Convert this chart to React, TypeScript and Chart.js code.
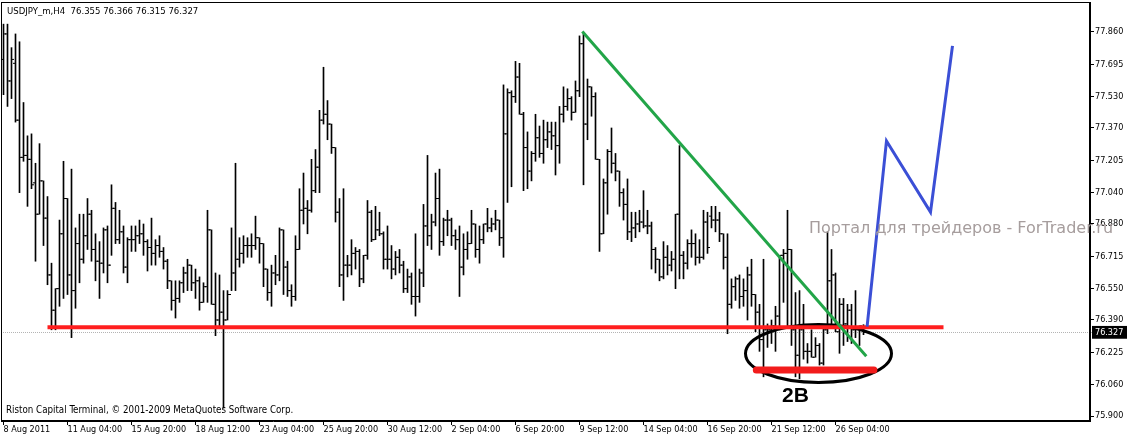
import React, { useEffect, useRef } from "react";
import { Chart, registerables } from "chart.js";

Chart.register(...registerables);

// ---- OHLC data (USDJPY_m, H4), bar index 0 = first visible bar ----
const opens = [
  77.72, 77.85, 77.61, 77.70, 77.41, 77.22, 77.23, 77.21, 77.09, 76.93,
  77.10, 76.91, 76.62, 76.44, 76.55, 76.83, 77.01, 76.62, 76.54, 76.78,
  76.70, 76.82, 76.93, 76.75, 76.69, 76.68, 76.85, 76.67, 76.96, 76.80,
  76.84, 76.66, 76.80, 76.80, 76.82, 76.83, 76.79, 76.76, 76.73, 76.77,
  76.74, 76.69, 76.59, 76.49, 76.50, 76.58, 76.63, 76.67, 76.58, 76.59,
  76.48, 76.56, 76.85, 76.47, 76.39, 76.43, 76.39, 76.52, 76.63, 76.70,
  76.73, 76.77, 76.77, 76.77, 76.81, 76.78, 76.65, 76.53, 76.63, 76.62,
  76.85, 76.66, 76.54, 76.51, 76.75, 76.95, 76.96, 76.95, 77.05, 77.17,
  77.41, 77.44, 77.39, 77.27, 76.94, 76.62, 76.67, 76.67, 76.73, 76.74,
  76.60, 76.72, 76.94, 76.80, 76.85, 76.83, 76.70, 76.70, 76.65, 76.71,
  76.67, 76.55, 76.61, 76.51, 76.51, 76.63, 76.87, 76.82, 76.89, 77.01,
  76.79, 76.90, 76.90, 76.82, 76.80, 76.66, 76.75, 76.78, 76.88, 76.75,
  76.80, 76.88, 76.86, 76.88, 76.90, 76.81, 77.34, 77.55, 77.53, 77.63,
  77.44, 77.27, 77.15, 77.24, 77.32, 77.24, 77.31, 77.35, 77.33, 77.28,
  77.44, 77.48, 77.52, 77.45, 77.56, 77.80, 77.39, 77.58, 77.53, 77.21,
  76.83, 77.09, 77.25, 77.19, 77.15, 77.04, 76.98, 76.84, 76.86, 76.88,
  76.89, 76.87, 76.87, 76.75, 76.70, 76.61, 76.71, 76.67, 76.70, 76.93,
  76.72, 76.68, 76.78, 76.78, 76.71, 76.71, 76.89, 76.92, 76.90, 76.90,
  76.83, 76.71, 76.47, 76.56, 76.60, 76.51, 76.54, 76.62, 76.52, 76.43,
  76.29, 76.34, 76.34, 76.36, 76.41, 76.72, 76.73, 76.75, 76.34, 76.21,
  76.34, 76.23, 76.23, 76.20, 76.26, 76.17, 76.34, 76.59, 76.62, 76.33,
  76.47, 76.37, 76.44, 76.34, 76.35, 76.355,
];
const highs = [
  77.90, 77.90, 77.78, 77.85, 77.81, 77.50, 77.33, 77.34, 77.19, 77.29,
  77.10, 77.02, 76.68, 76.55, 76.90, 77.20, 77.01, 77.16, 76.86, 76.93,
  76.93, 77.01, 76.95, 76.83, 76.79, 76.86, 76.87, 77.08, 76.99, 76.95,
  76.87, 76.81, 76.87, 76.87, 76.90, 76.88, 76.80, 76.91, 76.80, 76.82,
  76.76, 76.70, 76.59, 76.59, 76.59, 76.66, 76.70, 76.67, 76.65, 76.61,
  76.58, 76.95, 76.85, 76.63, 76.62, 76.54, 76.54, 76.86, 77.19, 76.81,
  76.82, 76.81, 76.83, 76.92, 76.81, 76.78, 76.65, 76.67, 76.72, 76.86,
  76.85, 76.69, 76.57, 76.82, 77.06, 77.14, 77.00, 77.21, 77.26, 77.46,
  77.68, 77.51, 77.39, 77.27, 77.01, 77.06, 76.72, 76.80, 76.76, 76.75,
  76.72, 77.00, 76.95, 76.97, 76.94, 76.84, 76.87, 76.77, 76.74, 76.75,
  76.69, 76.65, 76.63, 76.83, 76.65, 76.98, 77.23, 76.93, 77.14, 77.16,
  76.91, 76.95, 76.91, 76.85, 76.87, 76.83, 76.84, 76.95, 76.88, 76.87,
  76.88, 76.96, 76.91, 76.95, 76.90, 77.59, 77.57, 77.56, 77.71, 77.70,
  77.45, 77.35, 77.25, 77.44, 77.38, 77.41, 77.40, 77.40, 77.40, 77.48,
  77.58, 77.57, 77.53, 77.61, 77.84, 77.85, 77.62, 77.58, 77.55, 77.21,
  77.11, 77.26, 77.37, 77.24, 77.15, 77.06, 77.11, 76.94, 76.94, 76.95,
  77.05, 76.95, 76.89, 76.76, 76.70, 76.79, 76.77, 76.74, 76.93, 77.28,
  76.74, 76.80, 76.85, 76.83, 76.80, 76.95, 76.94, 76.97, 76.97, 76.94,
  76.83, 76.83, 76.60, 76.61, 76.62, 76.60, 76.66, 76.70, 76.52, 76.47,
  76.70, 76.37, 76.39, 76.46, 76.72, 76.75, 76.95, 76.75, 76.53, 76.54,
  76.47, 76.27, 76.34, 76.30, 76.27, 76.36, 76.84, 76.75, 76.63, 76.50,
  76.50, 76.47, 76.47, 76.54, 76.36, 76.366,
];
const lows = [
  77.54, 77.48, 77.52, 77.40, 77.04, 77.20, 76.97, 77.06, 76.69, 76.93,
  76.77, 76.57, 76.34, 76.34, 76.46, 76.50, 76.52, 76.30, 76.45, 76.58,
  76.68, 76.75, 76.69, 76.59, 76.50, 76.63, 76.58, 76.72, 76.78, 76.78,
  76.63, 76.58, 76.74, 76.74, 76.78, 76.72, 76.64, 76.67, 76.67, 76.71,
  76.65, 76.55, 76.44, 76.40, 76.48, 76.53, 76.54, 76.54, 76.50, 76.44,
  76.48, 76.48, 76.47, 76.31, 76.36, 75.94, 76.39, 76.54, 76.54, 76.66,
  76.68, 76.71, 76.71, 76.75, 76.68, 76.56, 76.49, 76.46, 76.57, 76.59,
  76.52, 76.51, 76.46, 76.49, 76.75, 76.88, 76.83, 76.94, 77.04, 77.04,
  77.39, 77.31, 77.24, 76.89, 76.56, 76.49, 76.61, 76.62, 76.65, 76.56,
  76.58, 76.70, 76.79, 76.80, 76.82, 76.65, 76.65, 76.60, 76.62, 76.63,
  76.53, 76.53, 76.47, 76.41, 76.48, 76.56, 76.77, 76.75, 76.87, 76.72,
  76.77, 76.82, 76.77, 76.75, 76.51, 76.62, 76.70, 76.78, 76.71, 76.68,
  76.78, 76.84, 76.84, 76.85, 76.77, 76.71, 76.99, 77.07, 77.50, 77.44,
  77.05, 77.06, 77.10, 77.20, 77.22, 77.19, 77.27, 77.26, 77.13, 77.19,
  77.40, 77.46, 77.41, 77.45, 77.53, 77.08, 77.31, 77.43, 77.21, 76.74,
  76.83, 76.93, 77.14, 77.10, 76.97, 76.90, 76.80, 76.79, 76.81, 76.84,
  76.86, 76.83, 76.65, 76.63, 76.59, 76.60, 76.62, 76.64, 76.55, 76.60,
  76.60, 76.65, 76.71, 76.67, 76.68, 76.70, 76.73, 76.86, 76.84, 76.79,
  76.65, 76.32, 76.45, 76.49, 76.45, 76.46, 76.39, 76.46, 76.33, 76.23,
  76.10, 76.25, 76.27, 76.23, 76.34, 76.48, 76.36, 76.26, 76.10, 76.09,
  76.19, 76.17, 76.20, 76.20, 76.16, 76.16, 76.32, 76.36, 76.33, 76.22,
  76.26, 76.28, 76.27, 76.30, 76.26, 76.315,
];
const closes = [
  77.85, 77.61, 77.72, 77.41, 77.22, 77.23, 77.21, 77.08, 76.93, 77.10,
  76.91, 76.62, 76.44, 76.55, 76.83, 77.01, 76.62, 76.54, 76.78, 76.70,
  76.82, 76.93, 76.75, 76.69, 76.68, 76.85, 76.67, 76.96, 76.80, 76.84,
  76.66, 76.80, 76.80, 76.82, 76.83, 76.79, 76.76, 76.73, 76.77, 76.74,
  76.69, 76.59, 76.49, 76.50, 76.58, 76.63, 76.67, 76.58, 76.59, 76.48,
  76.56, 76.85, 76.47, 76.39, 76.43, 76.39, 76.52, 76.63, 76.70, 76.73,
  76.77, 76.77, 76.77, 76.81, 76.78, 76.65, 76.53, 76.63, 76.62, 76.85,
  76.66, 76.54, 76.51, 76.75, 76.95, 76.96, 76.95, 77.05, 77.17, 77.41,
  77.44, 77.39, 77.27, 76.94, 76.62, 76.67, 76.67, 76.73, 76.74, 76.60,
  76.72, 76.94, 76.80, 76.85, 76.83, 76.70, 76.70, 76.65, 76.71, 76.67,
  76.55, 76.61, 76.51, 76.51, 76.63, 76.87, 76.82, 76.89, 77.01, 76.79,
  76.90, 76.90, 76.82, 76.80, 76.66, 76.75, 76.78, 76.88, 76.75, 76.80,
  76.88, 76.86, 76.88, 76.90, 76.81, 77.34, 77.55, 77.53, 77.63, 77.44,
  77.27, 77.15, 77.24, 77.32, 77.24, 77.31, 77.35, 77.33, 77.28, 77.44,
  77.48, 77.52, 77.45, 77.56, 77.80, 77.39, 77.58, 77.53, 77.21, 76.83,
  77.09, 77.25, 77.19, 77.15, 77.04, 76.98, 76.84, 76.86, 76.88, 76.89,
  76.87, 76.87, 76.75, 76.70, 76.61, 76.71, 76.67, 76.70, 76.93, 76.72,
  76.68, 76.78, 76.78, 76.71, 76.71, 76.89, 76.76, 76.90, 76.90, 76.83,
  76.71, 76.47, 76.56, 76.60, 76.51, 76.54, 76.62, 76.52, 76.43, 76.29,
  76.34, 76.34, 76.36, 76.41, 76.72, 76.73, 76.75, 76.34, 76.21, 76.34,
  76.23, 76.23, 76.20, 76.26, 76.17, 76.34, 76.59, 76.62, 76.33, 76.47,
  76.37, 76.44, 76.34, 76.35, 76.36, 76.327,
];

// ---- axis labels ----
const timeLabels = [
  "8 Aug 2011", "11 Aug 04:00", "15 Aug 20:00", "18 Aug 12:00", "23 Aug 04:00",
  "25 Aug 20:00", "30 Aug 12:00", "2 Sep 04:00", "6 Sep 20:00", "9 Sep 12:00",
  "14 Sep 04:00", "16 Sep 20:00", "21 Sep 12:00", "26 Sep 04:00",
];
const barsPerTimeLabel = 16;
const priceTicks = [
  77.86, 77.695, 77.53, 77.37, 77.205, 77.04, 76.88, 76.715, 76.55, 76.39,
  76.225, 76.06, 75.9,
];
const bidPrice = 76.327;

// ---- drawn annotations (bar index, price) ----
const supportLine = [
  { x: 11, y: 76.353 },
  { x: 235, y: 76.353 },
];
const falseBreakLine = [
  { x: 188.2, y: 76.135 },
  { x: 217.6, y: 76.135 },
];
const trendLine = [
  { x: 144.7, y: 77.862 },
  { x: 215.7, y: 76.205 },
];
const forecastPath = [
  { x: 215.9, y: 76.356 },
  { x: 220.75, y: 77.304 },
  { x: 231.75, y: 76.941 },
  { x: 237.25, y: 77.789 },
];
const zoneCenter = [203.75, 76.219];
const zoneRadius = [18.25, 0.148];

const titleText = "USDJPY_m,H4  76.355 76.366 76.315 76.327";
const copyrightText = "Riston Capital Terminal, \u00A9 2001-2009 MetaQuotes Software Corp.";
const watermarkText = "\u041F\u043E\u0440\u0442\u0430\u043B \u0434\u043B\u044F \u0442\u0440\u0435\u0439\u0434\u0435\u0440\u043E\u0432 - ForTrader.ru";
const patternText = "2B";

const UI_FONT = "'DejaVu Sans Condensed', 'DejaVu Sans', sans-serif";

export default function App() {
  const ref = useRef<HTMLCanvasElement | null>(null);

  useEffect(() => {
    document.body.style.margin = "0";
    const canvas = ref.current;
    if (!canvas) return;

    const overlay = {
      id: "mtOverlay",
      beforeDatasetsDraw(chart: any) {
        const { ctx, chartArea: a, scales } = chart;
        const y = scales.y.getPixelForValue(bidPrice);
        ctx.save();
        ctx.strokeStyle = "#b4b4b4";
        ctx.lineWidth = 1;
        ctx.setLineDash([1, 1]);
        ctx.beginPath();
        ctx.moveTo(a.left, Math.round(y) + 0.5);
        ctx.lineTo(a.right + 3, Math.round(y) + 0.5);
        ctx.stroke();
        ctx.restore();
      },
      afterDatasetDraw(chart: any, args: any) {
        if (args.meta.label !== "close") return;
        const { ctx, scales } = chart;
        const xs = scales.x, ys = scales.y;
        const cx = xs.getPixelForValue(zoneCenter[0]);
        const cy = ys.getPixelForValue(zoneCenter[1]);
        const rx = xs.getPixelForValue(zoneCenter[0] + zoneRadius[0]) - cx;
        const ry = cy - ys.getPixelForValue(zoneCenter[1] + zoneRadius[1]);
        ctx.save();
        ctx.beginPath();
        ctx.ellipse(cx, cy, rx, ry, 0, 0, Math.PI * 2);
        ctx.lineWidth = 3;
        ctx.strokeStyle = "#000";
        ctx.stroke();
        ctx.restore();
      },
      afterDraw(chart: any) {
        const { ctx, chartArea: a } = chart;
        ctx.save();
        ctx.strokeStyle = "#000";
        ctx.lineWidth = 1;
        ctx.strokeRect(a.left + 0.5, a.top + 0.5, a.right - a.left - 1, a.bottom - a.top - 1);
        ctx.fillStyle = "#000";
        ctx.textBaseline = "middle";
        ctx.textAlign = "left";
        ctx.font = `9.5px ${UI_FONT}`;
        ctx.fillText(titleText, 7, 12);
        ctx.font = `9.7px ${UI_FONT}`;
        ctx.fillText(copyrightText, 6, 410);
        ctx.font = "16px 'DejaVu Sans', sans-serif";
        ctx.fillStyle = "#a69d9d";
        ctx.fillText(watermarkText, 809, 229);
        ctx.font = "bold 21px 'Liberation Sans', Arial, sans-serif";
        ctx.fillStyle = "#000";
        ctx.textAlign = "center";
        ctx.fillText(patternText, 795.5, 396);
        ctx.restore();
      },
    };

    const tickFont = { family: UI_FONT, size: 9 };
    const noPad = (s: any) => {
      s.paddingLeft = 0;
      s.paddingRight = 0;
      s.paddingTop = 0;
      s.paddingBottom = 0;
    };

    const chart = new Chart(canvas, {
      type: "bar",
      data: {
        datasets: [
          {
            type: "line",
            label: "support",
            data: supportLine,
            borderColor: "#ff1e1e",
            borderWidth: 4,
            pointRadius: 0,
            order: 3,
          },
          {
            type: "line",
            label: "falseBreak",
            data: falseBreakLine,
            borderColor: "#f21c1c",
            borderWidth: 7,
            borderCapStyle: "round",
            pointRadius: 0,
            order: 2,
          },
          {
            type: "line",
            label: "trend",
            data: trendLine,
            borderColor: "#22a548",
            borderWidth: 3,
            pointRadius: 0,
            order: 2,
          },
          {
            type: "line",
            label: "forecast",
            data: forecastPath,
            borderColor: "#3b4fd6",
            borderWidth: 3,
            pointRadius: 0,
            order: 1,
          },
          {
            type: "bar",
            label: "range",
            data: highs.map((h, i) => ({ x: i, y: [lows[i], h] })),
            backgroundColor: "#000",
            barThickness: 1,
            grouped: false,
            order: 12,
          } as any,
          {
            type: "scatter",
            label: "open",
            data: opens.map((o, i) => ({ x: i - 0.375, y: o })),
            pointStyle: "line",
            pointRadius: 1,
            borderWidth: 1,
            borderColor: "#000",
            order: 11,
          },
          {
            type: "scatter",
            label: "close",
            data: closes.map((c, i) => ({ x: i + 0.375, y: c })),
            pointStyle: "line",
            pointRadius: 1,
            borderWidth: 1,
            borderColor: "#000",
            order: 10,
          },
        ],
      },
      options: {
        responsive: false,
        animation: false,
        devicePixelRatio: 1,
        events: [],
        layout: { autoPadding: false, padding: { left: 1, top: 2, right: 0, bottom: 0 } },
        plugins: {
          legend: { display: false },
          tooltip: { enabled: false },
          title: { display: false },
        },
        scales: {
          x: {
            type: "linear",
            offset: false,
            min: -0.625,
            max: 271.625,
            afterBuildTicks: (s: any) => {
              s.ticks = timeLabels.map((_, k) => ({ value: k * barsPerTimeLabel }));
            },
            afterFit: (s: any) => {
              s.height = 15;
              noPad(s);
            },
            ticks: {
              autoSkip: false,
              maxRotation: 0,
              minRotation: 0,
              align: "start",
              padding: -1,
              color: "#000",
              font: tickFont,
              callback: (_v: any, i: number) => timeLabels[i],
            },
            grid: {
              offset: false,
              drawOnChartArea: false,
              drawTicks: true,
              tickLength: 4,
              color: "#000",
            },
            border: { display: true, color: "#000" },
          },
          y: {
            type: "linear",
            position: "right",
            min: 75.8745,
            max: 78.013,
            afterBuildTicks: (s: any) => {
              s.ticks = [...priceTicks, bidPrice].map((v) => ({ value: v }));
            },
            afterFit: (s: any) => {
              s.width = 37;
              noPad(s);
            },
            ticks: {
              autoSkip: false,
              padding: 1,
              font: tickFont,
              color: (c: any) => (c.tick && c.tick.value === bidPrice ? "#fff" : "#000"),
              showLabelBackdrop: true,
              backdropColor: (c: any) =>
                c.tick && c.tick.value === bidPrice ? "#000" : "rgba(0,0,0,0)",
              backdropPadding: { left: 3, right: 4, top: 1, bottom: 1 },
              callback: (v: any) => Number(v).toFixed(3),
            },
            grid: {
              drawOnChartArea: false,
              drawTicks: true,
              tickLength: 4,
              color: (c: any) => (c.tick && c.tick.value === bidPrice ? "#b4b4b4" : "#000"),
            },
            border: { display: true, color: "#000" },
          },
        },
      },
      plugins: [overlay],
    } as any);

    return () => chart.destroy();
  }, []);

  return (
    <div style={{ width: 1127, height: 436, background: "#fff" }}>
      <canvas ref={ref} width={1127} height={436} style={{ display: "block" }} />
    </div>
  );
}
